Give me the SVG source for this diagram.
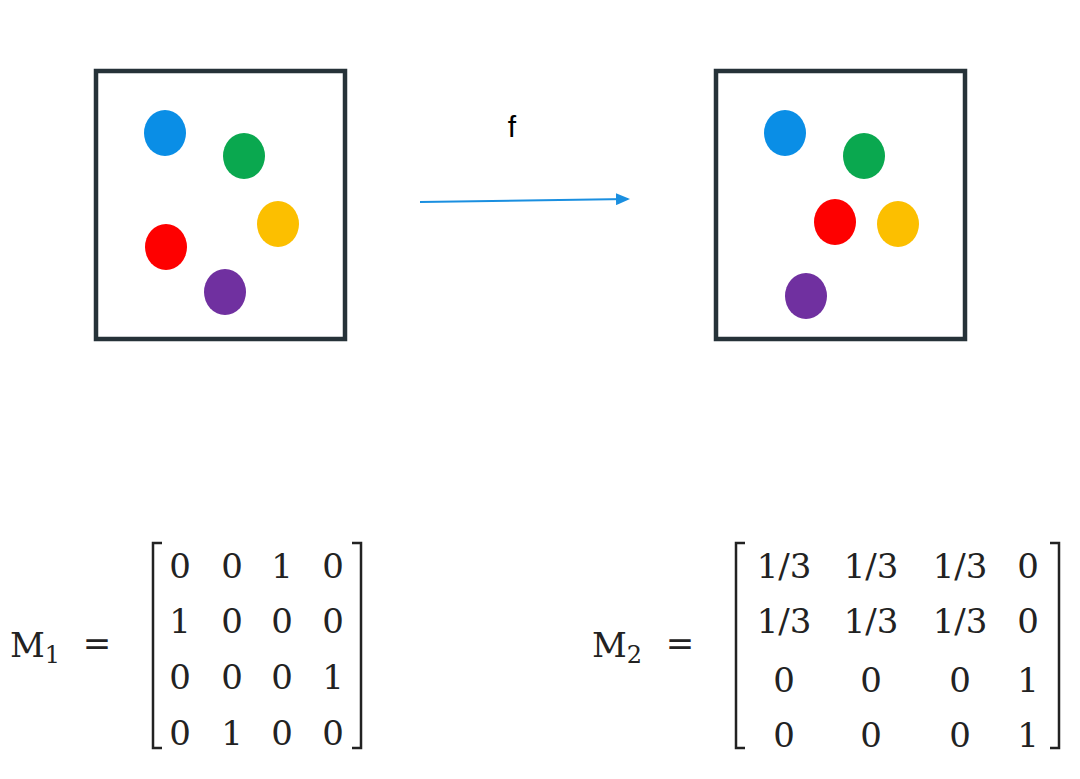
<svg xmlns="http://www.w3.org/2000/svg" width="1080" height="779" viewBox="0 0 1080 779">
<style>
.box{fill:none;stroke:#263238;stroke-width:4.5}
.m{font-family:"DejaVu Serif","Liberation Serif",serif;font-size:34px;fill:#222;text-anchor:middle}
.l{text-anchor:start}
.br{fill:none;stroke:#222;stroke-width:2.5}
</style>
<defs><marker id="ah" markerWidth="14" markerHeight="12" refX="12" refY="6" orient="auto" markerUnits="userSpaceOnUse"><path d="M0,0 L14,6 L0,12 z" fill="#1a8fe0"/></marker></defs>
<rect width="1080" height="779" fill="#fff"/>
<g id="box1"><rect class="box" x="96" y="71" width="249" height="268"/>
<ellipse cx="165" cy="133" rx="21" ry="23" fill="#0a8ee6"/><ellipse cx="244" cy="156" rx="21" ry="23" fill="#0aa84f"/><ellipse cx="278" cy="224" rx="21" ry="23" fill="#fcbf00"/><ellipse cx="166" cy="247" rx="21" ry="23" fill="#fe0000"/><ellipse cx="225" cy="292" rx="21" ry="23" fill="#7030a0"/></g>
<g id="box2"><rect class="box" x="716" y="71" width="249" height="268"/>
<ellipse cx="785" cy="133" rx="21" ry="23" fill="#0a8ee6"/><ellipse cx="864" cy="156" rx="21" ry="23" fill="#0aa84f"/><ellipse cx="835" cy="222" rx="21" ry="23" fill="#fe0000"/><ellipse cx="898" cy="224" rx="21" ry="23" fill="#fcbf00"/><ellipse cx="806" cy="296" rx="21" ry="23" fill="#7030a0"/></g>
<g id="connectors"><line x1="420" y1="202" x2="628" y2="199" stroke="#1a8fe0" stroke-width="2" marker-end="url(#ah)"/>
<text x="512" y="137" font-family="Liberation Sans,Arial,sans-serif" font-size="30" text-anchor="middle">f</text></g>
<g id="m1">
<text class="m l" x="10" y="657">M<tspan font-size="24" dy="6">1</tspan></text>
<text class="m" x="97" y="655">=</text>
<path class="br" d="M162,543 H153 V748 H162 M352,543 H361 V748 H352"/>
<g class="m"><text x="180" y="578">0</text><text x="232" y="578">0</text><text x="282" y="578">1</text><text x="333" y="578">0</text>
<text x="180" y="633">1</text><text x="232" y="633">0</text><text x="282" y="633">0</text><text x="333" y="633">0</text>
<text x="180" y="689">0</text><text x="232" y="689">0</text><text x="282" y="689">0</text><text x="333" y="689">1</text>
<text x="180" y="745">0</text><text x="232" y="745">1</text><text x="282" y="745">0</text><text x="333" y="745">0</text></g></g>
<g id="m2">
<text class="m l" x="592" y="657">M<tspan font-size="24" dy="6">2</tspan></text>
<text class="m" x="680" y="655">=</text>
<path class="br" d="M745,543 H736 V748 H745 M1050,543 H1059 V748 H1050"/>
<g class="m"><text x="784" y="578">1/3</text><text x="871" y="578">1/3</text><text x="960" y="578">1/3</text><text x="1028" y="578">0</text>
<text x="784" y="633">1/3</text><text x="871" y="633">1/3</text><text x="960" y="633">1/3</text><text x="1028" y="633">0</text>
<text x="784" y="692">0</text><text x="871" y="692">0</text><text x="960" y="692">0</text><text x="1028" y="692">1</text>
<text x="784" y="747">0</text><text x="871" y="747">0</text><text x="960" y="747">0</text><text x="1028" y="747">1</text></g></g>
</svg>
